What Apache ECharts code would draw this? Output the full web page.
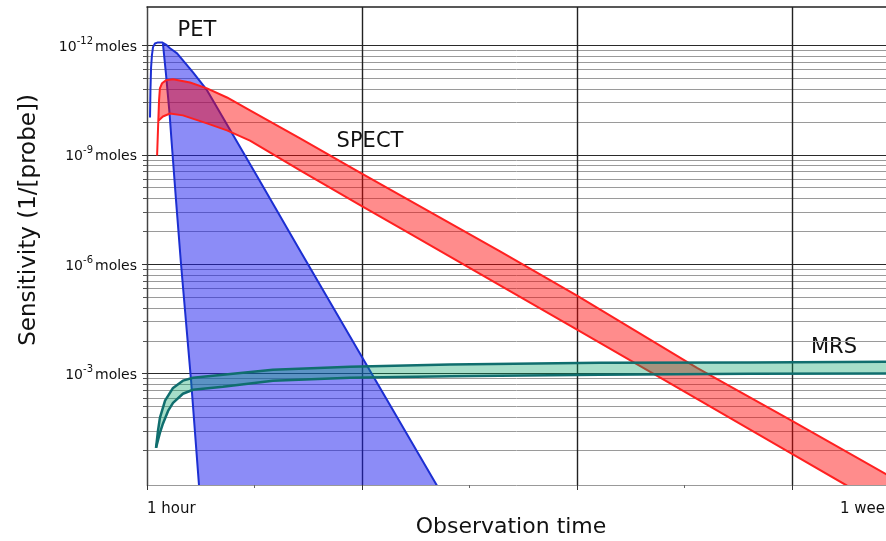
<!DOCTYPE html>
<html><head><meta charset="utf-8">
<script src="https://cdn.jsdelivr.net/npm/echarts@6/dist/echarts.min.js"></script>
<style>html,body{margin:0;padding:0;background:#fff}#c{width:886px;height:541px}</style>
</head><body><div id="c"></div>
<script>
// x: observation time (0 = 1 hour ... 3 = 1 week gridline)
// y: log10 of detectable amount in moles
const xMajorTicks = [0, 1, 2, 3];
const xMinorTicks = [0.5, 1.5, 2.5];
const xLabelTicks = [0, 3];
const xTickLabels = {0: '1 hour', 3: '1 week'};
const yTickValues = [-12, -9, -6, -3];
const seriesNames = ['PET', 'SPECT', 'MRS'];

const petOuter = [[0.014,-10.02],[0.016,-10.76],[0.019,-11.40],[0.023,-11.73],[0.028,-11.95],[0.037,-12.05],[0.051,-12.08],[0.070,-12.08],[0.088,-12.02],[0.107,-11.92],[0.140,-11.78],[0.214,-11.26],[0.279,-10.77],[0.512,-8.41],[0.712,-6.37],[0.991,-3.55],[1.349,0.07]];
const petInner = [[0.074,-12.05],[0.088,-11.23],[0.105,-10.13],[0.114,-9.39],[0.135,-7.75],[0.158,-6.02],[0.205,-2.81],[0.242,0.07]];

const spectOuter = [[0.047,-8.98],[0.051,-9.67],[0.056,-10.49],[0.060,-10.82],[0.070,-10.96],[0.088,-11.04],[0.121,-11.07],[0.200,-10.98],[0.279,-10.82],[0.372,-10.57],[0.479,-10.22],[0.712,-9.45],[0.991,-8.51],[1.330,-7.39],[1.642,-6.35],[2.000,-5.14],[2.558,-3.16],[3.000,-1.71],[3.437,-0.25],[3.535,0.07]];
const spectInner = [[0.054,-9.94],[0.074,-10.05],[0.107,-10.13],[0.167,-10.08],[0.279,-9.86],[0.372,-9.67],[0.479,-9.39],[0.712,-8.57],[0.991,-7.62],[1.223,-6.84],[1.488,-5.94],[2.000,-4.21],[2.572,-2.26],[3.000,-0.80],[3.256,0.07]];

const mrsUpper = [[0.042,-0.97],[0.051,-1.43],[0.060,-1.79],[0.084,-2.26],[0.121,-2.61],[0.167,-2.81],[0.214,-2.89],[0.353,-2.97],[0.586,-3.11],[0.944,-3.19],[1.409,-3.25],[2.107,-3.30],[2.805,-3.31],[3.502,-3.33]];
const mrsLower = [[0.042,-0.97],[0.060,-1.38],[0.074,-1.63],[0.098,-1.98],[0.121,-2.20],[0.167,-2.45],[0.214,-2.56],[0.353,-2.64],[0.586,-2.81],[0.944,-2.89],[1.409,-2.93],[2.107,-2.97],[2.805,-3.00],[3.502,-3.01]];

const FONT = 'DejaVu Sans';
const X_MAX = 3.437, Y_MIN = -13.05, Y_MAX = 0.05;
const minorValues = [];
for (let j = 0; j < 4; j++) for (let k = 2; k <= 9; k++) minorValues.push(-3 * j - 3 * Math.log10(k));

function bandSeries(name, outer, inner, fill, stroke, lw) {
  return {
    type: 'custom', name: name, clip: true, data: outer, silent: true,
    renderItem: function (params, api) {
      if (params.dataIndex !== 0) return null;
      const c = p => api.coord(p);
      const start = inner[0][0];
      const poly = [inner[0]].concat(outer.filter(p => p[0] > start), inner.slice(1).reverse()).map(c);
      return {
        type: 'group',
        children: [
          {type: 'polygon', shape: {points: poly}, style: {fill: fill}},
          {type: 'polyline', shape: {points: outer.map(c)}, style: {fill: 'none', stroke: stroke, lineWidth: lw, lineJoin: 'round'}},
          {type: 'polyline', shape: {points: inner.map(c)}, style: {fill: 'none', stroke: stroke, lineWidth: lw, lineJoin: 'round'}}
        ]
      };
    }
  };
}

const chart = echarts.init(document.getElementById('c'), null, {renderer: 'canvas'});
const labelStyle = {fontFamily: FONT, fontSize: 21, fill: '#111', align: 'center', verticalAlign: 'middle'};
chart.setOption({
  animation: false,
  backgroundColor: '#fff',
  grid: {left: 147, top: 7, right: 0, bottom: 56, containLabel: false, outerBoundsMode: 'none'},
  xAxis: [{
    type: 'value', min: 0, max: X_MAX, position: 'bottom',
    axisLine: {show: true, onZero: false, lineStyle: {color: '#999', width: 1}},
    axisTick: {show: true, customValues: xMajorTicks, length: 5, lineStyle: {color: '#333'}},
    axisLabel: {
      customValues: xLabelTicks, margin: 17, align: 'left', fontFamily: FONT, fontSize: 15, color: '#111',
      formatter: v => v === 3 ? '{w|' + xTickLabels[v] + '}' : (xTickLabels[v] || ''),
      rich: {w: {fontFamily: FONT, fontSize: 15, color: '#111', padding: [0, 0, 0, 48]}}
    },
    splitLine: {show: true, lineStyle: {color: '#222', width: 1.4}},
    name: 'Observation time', nameLocation: 'middle', nameGap: 31, nameMoveOverlap: false,
    nameTextStyle: {fontFamily: FONT, fontSize: 22, color: '#111', padding: [0, 11, 0, 0]}
  }, {
    type: 'value', min: 0, max: X_MAX, position: 'top',
    axisLine: {show: true, onZero: false, lineStyle: {color: '#222', width: 1.5}},
    axisTick: {show: false}, axisLabel: {show: false}, splitLine: {show: false}
  }, {
    type: 'value', min: 0, max: X_MAX, position: 'bottom',
    axisLine: {show: false, onZero: false},
    axisTick: {show: true, customValues: xMinorTicks, length: 3, lineStyle: {color: '#666'}},
    axisLabel: {show: false}, splitLine: {show: false}
  }],
  yAxis: [{
    type: 'value', min: Y_MIN, max: Y_MAX, inverse: true, position: 'left',
    axisLine: {show: true, onZero: false, lineStyle: {color: '#444', width: 1}},
    axisTick: {show: true, customValues: yTickValues, length: 5, lineStyle: {color: '#333'}},
    axisLabel: {
      customValues: yTickValues, margin: 10,
      formatter: v => '{a|10}{s|' + v + '}{m|moles}',
      rich: {
        a: {fontFamily: FONT, fontSize: 14, color: '#111', lineHeight: 18, verticalAlign: 'bottom'},
        s: {fontFamily: FONT, fontSize: 10, color: '#111', lineHeight: 10, verticalAlign: 'top'},
        m: {fontFamily: FONT, fontSize: 14, color: '#111', lineHeight: 18, verticalAlign: 'bottom', padding: [0, 0, 0, 2]}
      }
    },
    splitLine: {show: true, lineStyle: {color: '#2a2a2a', width: 1.2}},
    name: 'Sensitivity (1/[probe])', nameLocation: 'middle', nameGap: 106, nameMoveOverlap: false,
    nameTextStyle: {fontFamily: FONT, fontSize: 23, color: '#111', padding: [0, 0, 0, 52]}
  }, {
    type: 'value', min: Y_MIN, max: Y_MAX, inverse: true, position: 'left',
    axisLine: {show: false, onZero: false},
    axisTick: {show: true, customValues: minorValues, length: 4, lineStyle: {color: '#555'}},
    axisLabel: {show: false},
    splitLine: {show: true, lineStyle: {color: '#9a9a9a', width: 1}}
  }],
  series: [
    bandSeries(seriesNames[0], petOuter, petInner, 'rgba(30,30,240,0.51)', '#1c2fd2', 2),
    bandSeries(seriesNames[1], spectOuter, spectInner, 'rgba(255,0,0,0.45)', '#ff2020', 2),
    bandSeries(seriesNames[2], mrsUpper, mrsLower, 'rgba(0,160,100,0.35)', '#106e6e', 2.5)
  ],
  graphic: [
    {type: 'text', x: 197, y: 31, style: Object.assign({text: seriesNames[0]}, labelStyle)},
    {type: 'text', x: 370, y: 142, style: Object.assign({text: seriesNames[1]}, labelStyle)},
    {type: 'text', x: 834, y: 348, style: Object.assign({text: seriesNames[2]}, labelStyle)}
  ]
});
</script></body></html>
